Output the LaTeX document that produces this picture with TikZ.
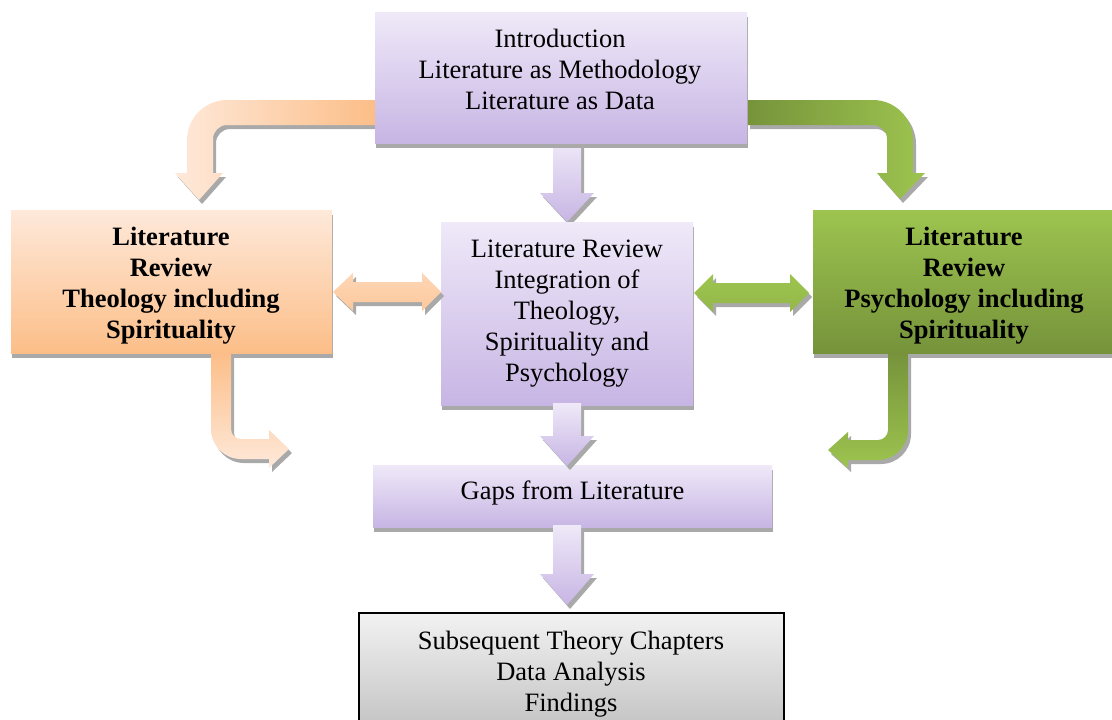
\documentclass[tikz,border=0pt]{standalone}
\usepackage{fontspec}
\setmainfont{Liberation Serif}
\usetikzlibrary{shadows}

\definecolor{lavTop}{HTML}{EFE9F8}
\definecolor{lavBot}{HTML}{C7B5E4}
\definecolor{orLight}{HTML}{FEE9DA}
\definecolor{orDark}{HTML}{FCBE88}
\definecolor{grLight}{HTML}{9DC44F}
\definecolor{grDark}{HTML}{76933B}
\definecolor{greyTop}{HTML}{F2F2F2}
\definecolor{greyBot}{HTML}{C3C3C3}
\definecolor{shadowgrey}{HTML}{A9A9A9}

\begin{document}
\begin{tikzpicture}[x=1pt,y=-1pt,
  box/.style={rectangle, inner sep=0pt, draw=none},
  txt/.style={align=center, inner sep=0pt, font=\fontsize{26.5}{31}\selectfont},
  btxt/.style={txt, font=\fontsize{26.5}{31}\selectfont\bfseries},
  boxshadow/.style={general shadow={fill=shadowgrey, shadow xshift=1pt, shadow yshift=-5pt}},
  arrowshadow/.style={general shadow={fill=shadowgrey, shadow xshift=3pt, shadow yshift=-4pt}},
  lavarrow/.style={arrowshadow, top color=lavTop, bottom color=lavBot},
]
\useasboundingbox (0,0) rectangle (1112,720);
\clip (0,0) rectangle (1112,720);

% bent arrows leaving the introduction box
\shade[arrowshadow, left color=orLight, right color=orDark]
  (375,100) -- (227,100) .. controls (205,100) and (187,118) .. (187,140)
  -- (187,173) -- (175,173) -- (199,200) -- (223,173) -- (213,173) -- (213,139)
  .. controls (213,131.3) and (219.3,125) .. (227,125) -- (375,125) -- cycle;
\shade[arrowshadow, left color=grDark, right color=grLight]
  (747,100) -- (873,100) .. controls (895,100) and (913,118) .. (913,140)
  -- (913,173) -- (925,173) -- (900,199) -- (877,173) -- (887,173) -- (887,139)
  .. controls (887,131.3) and (880.7,125) .. (873,125) -- (747,125) -- cycle;

% introduction -> integration
\shade[lavarrow] (553,140) -- (581,140) -- (581,193) -- (594,193) -- (567,222)
  -- (540,193) -- (553,193) -- cycle;

% boxes
\node[box, boxshadow, top color=lavTop, bottom color=lavBot,
      minimum width=372pt, minimum height=131pt] (intro) at (561,77.5) {};
\node[box, boxshadow, top color=orLight, bottom color=orDark,
      minimum width=321pt, minimum height=143pt] (theo) at (171.5,281.5) {};
\node[box, boxshadow, top color=lavTop, bottom color=lavBot,
      minimum width=252pt, minimum height=183pt] (integ) at (567,313.5) {};
\node[box, boxshadow, top color=grLight, bottom color=grDark,
      minimum width=299pt, minimum height=143pt] (psych) at (962.5,281.5) {};
\node[box, boxshadow, top color=lavTop, bottom color=lavBot,
      minimum width=399pt, minimum height=62pt] (gaps) at (572.5,496) {};
\node[box, draw=black, line width=1.4pt, top color=greyTop, bottom color=greyBot,
      minimum width=425pt, minimum height=116pt] (final) at (571.5,671) {};

% bent arrows from the two literature reviews
\shade[arrowshadow, top color=orDark, bottom color=orLight]
  (211,353) -- (211,429) .. controls (211,445.6) and (224.4,459) .. (241,459)
  -- (269,459) -- (269,468) -- (289,449) -- (269,430) -- (269,439) -- (241,439)
  .. controls (235.5,439) and (231,434.5) .. (231,429) -- (231,353) -- cycle;
\shade[arrowshadow, top color=grDark, bottom color=grLight]
  (908,353) -- (908,430) .. controls (908,446.6) and (894.6,460) .. (878,460)
  -- (848,460) -- (848,468) -- (828,450) -- (848,432) -- (848,440) -- (878,440)
  .. controls (883.5,440) and (888,435.5) .. (888,430) -- (888,353) -- cycle;

% two-way arrows
\shade[arrowshadow, top color=orLight!55!orDark, bottom color=orLight!25!orDark]
  (333,292) -- (353,273) -- (353,282) -- (422,282) -- (422,273) -- (441,292)
  -- (422,311) -- (422,302) -- (353,302) -- (353,311) -- cycle;
\shade[arrowshadow, top color=grLight, bottom color=grLight!75!grDark]
  (694,293) -- (713,274) -- (713,283) -- (790,283) -- (790,274) -- (809,293)
  -- (790,312) -- (790,303) -- (713,303) -- (713,312) -- cycle;

% integration -> gaps -> final
\shade[lavarrow] (553,403) -- (581,403) -- (581,436) -- (594,436) -- (567,466)
  -- (540,436) -- (553,436) -- cycle;
\shade[lavarrow] (553,525) -- (581,525) -- (581,574) -- (594,574) -- (567,605)
  -- (540,574) -- (553,574) -- cycle;

% texts
\node[txt] (introT) at (560,69) {Introduction\\Literature as Methodology\\Literature as Data};
\node[btxt] (theoT) at (171,285.5) {Literature\\Review\\Theology including\\Spirituality};
\node[txt] (integT) at (567,314) {Literature Review\\Integration of\\Theology,\\Spirituality and\\Psychology};
\node[btxt] (psychT) at (964,285.5) {Literature\\Review\\Psychology including\\Spirituality};
\node[txt] (gapsT) at (572.5,493) {Gaps from Literature};
\node[txt] (finalT) at (571,674) {Subsequent Theory Chapters\\Data Analysis\\Findings};
\end{tikzpicture}
\end{document}
